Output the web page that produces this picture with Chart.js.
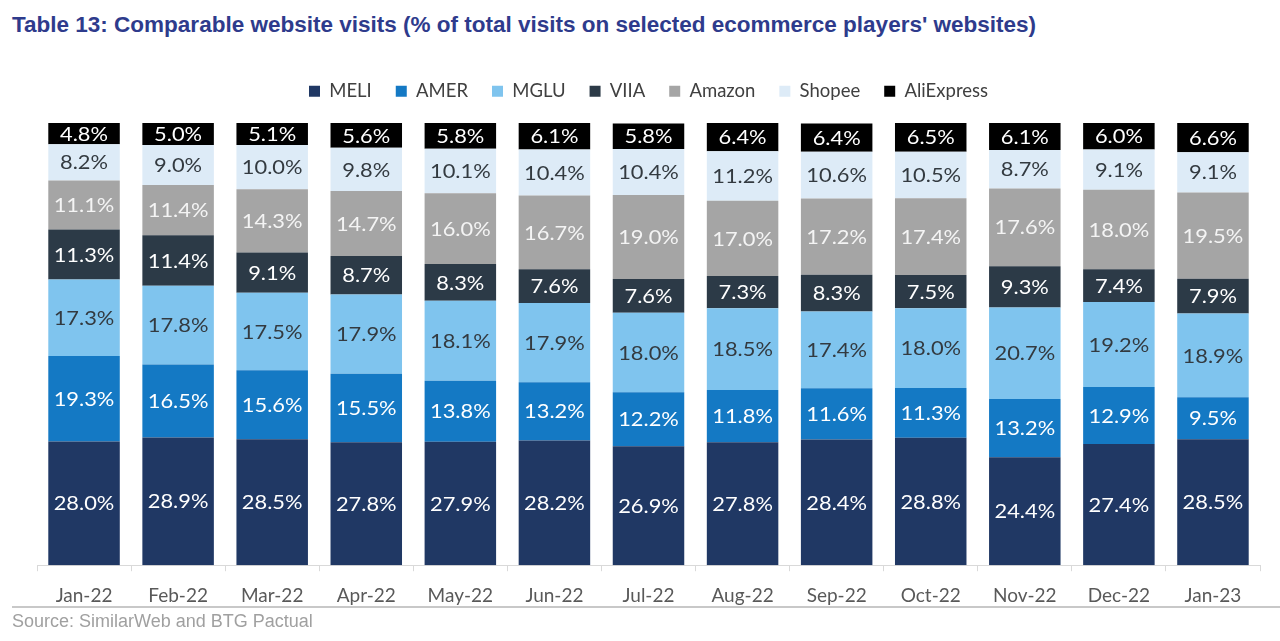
<!DOCTYPE html>
<html>
<head>
<meta charset="utf-8">
<script src="https://cdn.jsdelivr.net/npm/chart.js@4/dist/chart.umd.min.js"></script>
<style>
  body { margin: 0; background: #fff; width: 1280px; height: 641px; overflow: hidden; position: relative; }
  #title { position: absolute; left: 12px; top: 12px; font: bold 22.5px "Liberation Sans", Arial, sans-serif; color: #2e3b8c; white-space: nowrap; }
  #rule { position: absolute; left: 12px; right: 0; top: 606px; border-top: 2px solid #c8c8c8; }
  #source { position: absolute; left: 12px; top: 611px; font: 18px "Liberation Sans", Arial, sans-serif; color: #a0a0a0; }
  #wrap { position: absolute; left: 0; top: 0; }
</style>
</head>
<body>
<div id="title">Table 13: Comparable website visits (% of total visits on selected ecommerce players' websites)</div>
<div id="wrap"><canvas id="visitsChart" width="1280" height="641"></canvas></div>
<div id="rule"></div>
<div id="source">Source: SimilarWeb and BTG Pactual</div>
<script>
const months = ['Jan-22', 'Feb-22', 'Mar-22', 'Apr-22', 'May-22', 'Jun-22', 'Jul-22', 'Aug-22', 'Sep-22', 'Oct-22', 'Nov-22', 'Dec-22', 'Jan-23'];

const meli = [28.0, 28.9, 28.5, 27.8, 27.9, 28.2, 26.9, 27.8, 28.4, 28.8, 24.4, 27.4, 28.5];
const amer = [19.3, 16.5, 15.6, 15.5, 13.8, 13.2, 12.2, 11.8, 11.6, 11.3, 13.2, 12.9, 9.5];
const mglu = [17.3, 17.8, 17.5, 17.9, 18.1, 17.9, 18.0, 18.5, 17.4, 18.0, 20.7, 19.2, 18.9];
const viia = [11.3, 11.4, 9.1, 8.7, 8.3, 7.6, 7.6, 7.3, 8.3, 7.5, 9.3, 7.4, 7.9];
const amazon = [11.1, 11.4, 14.3, 14.7, 16.0, 16.7, 19.0, 17.0, 17.2, 17.4, 17.6, 18.0, 19.5];
const shopee = [8.2, 9.0, 10.0, 9.8, 10.1, 10.4, 10.4, 11.2, 10.6, 10.5, 8.7, 9.1, 9.1];
const aliexpress = [4.8, 5.0, 5.1, 5.6, 5.8, 6.1, 5.8, 6.4, 6.4, 6.5, 6.1, 6.0, 6.6];

const labelFont = '"Lato", "Open Sans", sans-serif';

function series(label, data, color, textColor) {
    return {
        label: label,
        data: data,
        backgroundColor: color,
        borderWidth: 0,
        labelColor: textColor
    };
}

const visitsData = {
    labels: months,
    datasets: [
        series('MELI', meli, '#203864', '#ffffff'),
        series('AMER', amer, '#1479c4', '#ffffff'),
        series('MGLU', mglu, '#7fc4ee', '#333a40'),
        series('VIIA', viia, '#2c3a47', '#ffffff'),
        series('Amazon', amazon, '#a5a5a5', '#f4f4f4'),
        series('Shopee', shopee, '#ddebf7', '#333a40'),
        series('AliExpress', aliexpress, '#000000', '#ffffff')
    ]
};

// push the plot area down below the legend
const legendGap = {
    id: 'legendGap',
    beforeInit(chart) {
        const fit = chart.legend.fit;
        chart.legend.fit = function () {
            fit.bind(chart.legend)();
            this.height = 123 - 58;
        };
    }
};

// value labels in the middle of each segment (text is a bit stretched, like the original)
const segmentLabels = {
    id: 'segmentLabels',
    afterDatasetsDraw(chart) {
        const ctx = chart.ctx;
        const sx = 1.15;
        chart.data.datasets.forEach((ds, i) => {
            const meta = chart.getDatasetMeta(i);
            meta.data.forEach((bar, j) => {
                ctx.save();
                ctx.translate(bar.x, (bar.y + bar.base) / 2 + 1);
                ctx.scale(sx, 1);
                ctx.font = '19px ' + labelFont;
                ctx.textAlign = 'center';
                ctx.textBaseline = 'middle';
                ctx.fillStyle = ds.labelColor;
                ctx.fillText(ds.data[j].toFixed(1) + '%', 0, 0);
                ctx.restore();
            });
        });
    }
};

new Chart(document.getElementById('visitsChart'), {
    type: 'bar',
    data: visitsData,
    plugins: [legendGap, segmentLabels],
    options: {
        responsive: false,
        animation: false,
        layout: {
            padding: { top: 58, left: 37, right: 20, bottom: 21 }
        },
        plugins: {
            legend: {
                position: 'top',
                labels: {
                    boxWidth: 11,
                    boxHeight: 11,
                    padding: 24,
                    color: '#404040',
                    font: { family: labelFont, size: 18.5 }
                }
            },
            tooltip: { enabled: false }
        },
        scales: {
            x: {
                stacked: true,
                offset: true,
                grid: {
                    display: true,
                    offset: true,
                    drawOnChartArea: false,
                    tickLength: 6,
                    color: '#d9d9d9'
                },
                border: { color: '#d9d9d9' },
                ticks: {
                    padding: 13,
                    color: '#595959',
                    font: { family: labelFont, size: 19 }
                }
            },
            y: {
                stacked: true,
                display: false,
                min: 0,
                max: 100
            }
        },
        datasets: {
            bar: { categoryPercentage: 1, barPercentage: 0.76 }
        }
    }
});
</script>
</body>
</html>
